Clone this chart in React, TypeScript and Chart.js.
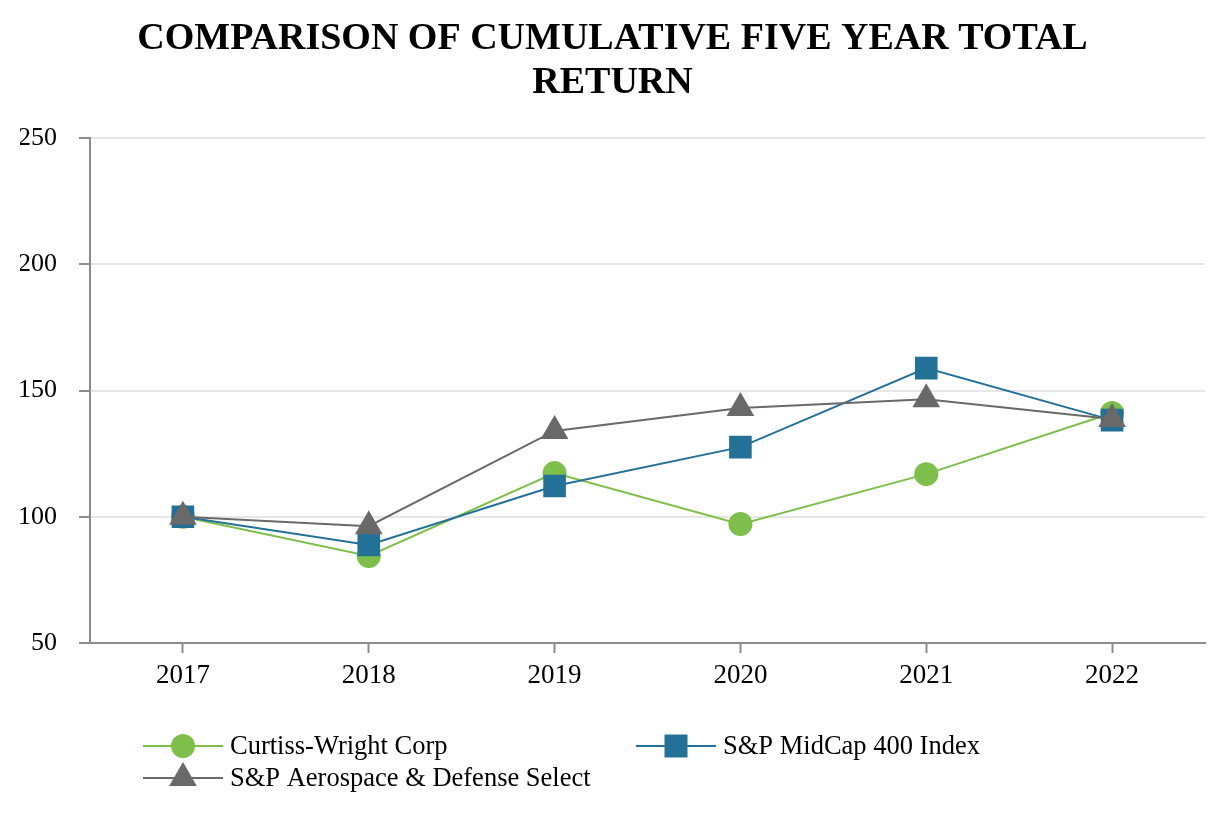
import React, { useEffect, useRef } from "react";
import { Chart, registerables } from "chart.js";

Chart.register(...registerables);

const years = ["2017", "2018", "2019", "2020", "2021", "2022"];
const curtissWright = [100, 84.5, 117.3, 97.1, 116.9, 141.1];
const midCap400 = [100, 88.8, 112.2, 127.6, 158.9, 138.3];
const aeroDefense = [100, 96.3, 134.0, 143.1, 146.6, 138.7];
const titleLines = ["COMPARISON OF CUMULATIVE FIVE YEAR TOTAL", "RETURN"];
const seriesNames = ["Curtiss-Wright Corp", "S&P MidCap 400 Index", "S&P Aerospace & Defense Select"];
const yMin = 50;
const yMax = 250;
const yStep = 50;

const GREEN = "#7dbf4a";
const BLUE = "#237196";
const GREY = "#696969";
const SERIF = "'Liberation Serif', 'Times New Roman', serif";

function drawMarker(ctx: CanvasRenderingContext2D, style: string, x: number, y: number, color: string) {
  ctx.save();
  ctx.fillStyle = color;
  ctx.beginPath();
  if (style === "circle") {
    ctx.arc(x, y, 12, 0, Math.PI * 2);
  } else if (style === "rect") {
    ctx.rect(x - 11.5, y - 11.5, 23, 23);
  } else {
    const r = 16;
    ctx.moveTo(x, y - r);
    ctx.lineTo(x + r * 0.866, y + r * 0.5);
    ctx.lineTo(x - r * 0.866, y + r * 0.5);
    ctx.closePath();
  }
  ctx.fill();
  ctx.restore();
}

const legendPlugin = {
  id: "customLegend",
  afterDraw(chart: any) {
    const ctx: CanvasRenderingContext2D = chart.ctx;
    const items = [
      { name: seriesNames[0], color: GREEN, style: "circle", x: 143, y: 746 },
      { name: seriesNames[1], color: BLUE, style: "rect", x: 636, y: 746 },
      { name: seriesNames[2], color: GREY, style: "triangle", x: 143, y: 778 },
    ];
    ctx.save();
    for (const it of items) {
      ctx.strokeStyle = it.color;
      ctx.lineWidth = 2;
      ctx.beginPath();
      ctx.moveTo(it.x, it.y);
      ctx.lineTo(it.x + 80, it.y);
      ctx.stroke();
      drawMarker(ctx, it.style, it.x + 40, it.y, it.color);
      ctx.fillStyle = "#000";
      ctx.font = `26.5px ${SERIF}`;
      ctx.textBaseline = "middle";
      ctx.textAlign = "left";
      ctx.fillText(it.name, it.x + 87, it.y + 1);
    }
    ctx.restore();
  },
};

export default function App() {
  const ref = useRef<HTMLCanvasElement>(null);
  useEffect(() => {
    document.body.style.margin = "0";
    const chart = new Chart(ref.current!, {
      type: "line",
      data: {
        labels: years,
        datasets: [
          {
            label: seriesNames[0],
            data: curtissWright,
            borderColor: GREEN,
            backgroundColor: GREEN,
            borderWidth: 2,
            pointStyle: "circle",
            pointRadius: 12,
            pointBorderWidth: 0,
            order: 3,
          },
          {
            label: seriesNames[1],
            data: midCap400,
            borderColor: BLUE,
            backgroundColor: BLUE,
            borderWidth: 2,
            pointStyle: "rect",
            pointRadius: 16,
            pointBorderWidth: 0,
            order: 2,
          },
          {
            label: seriesNames[2],
            data: aeroDefense,
            borderColor: GREY,
            backgroundColor: GREY,
            borderWidth: 2,
            pointStyle: "triangle",
            pointRadius: 16,
            pointBorderWidth: 0,
            order: 1,
          },
        ],
      },
      options: {
        animation: false,
        responsive: false,
        devicePixelRatio: 1,
        layout: { padding: { top: 0, left: 20, right: 21, bottom: 140 } },
        plugins: {
          legend: { display: false },
          tooltip: { enabled: false },
          title: {
            display: true,
            text: titleLines,
            color: "#000",
            font: { family: SERIF, size: 38, weight: "bold", lineHeight: 1.16 },
            padding: { top: 17, bottom: 33 },
          },
        },
        scales: {
          x: {
            offset: true,
            grid: {
              display: true,
              drawOnChartArea: false,
              drawTicks: true,
              tickLength: 10,
              tickColor: "#8c8c8c",
              tickWidth: 2,
            },
            border: { color: "#8c8c8c", width: 2 },
            ticks: { color: "#000", font: { family: SERIF, size: 27 }, padding: 7 },
            afterFit: (s: any) => {
              s.height = 45;
            },
          },
          y: {
            min: yMin,
            max: yMax,
            ticks: {
              stepSize: yStep,
              color: "#000",
              font: { family: SERIF, size: 26 },
              padding: 22,
            },
            grid: {
              color: "#e6e6e6",
              lineWidth: 2,
              tickLength: 11,
              tickColor: "#8c8c8c",
              tickWidth: 2,
            },
            border: { color: "#8c8c8c", width: 2 },
            afterFit: (s: any) => {
              s.width = 70;
            },
          },
        },
      },
      plugins: [legendPlugin],
    });
    return () => chart.destroy();
  }, []);
  return <canvas ref={ref} width={1226} height={828} style={{ display: "block" }} />;
}
